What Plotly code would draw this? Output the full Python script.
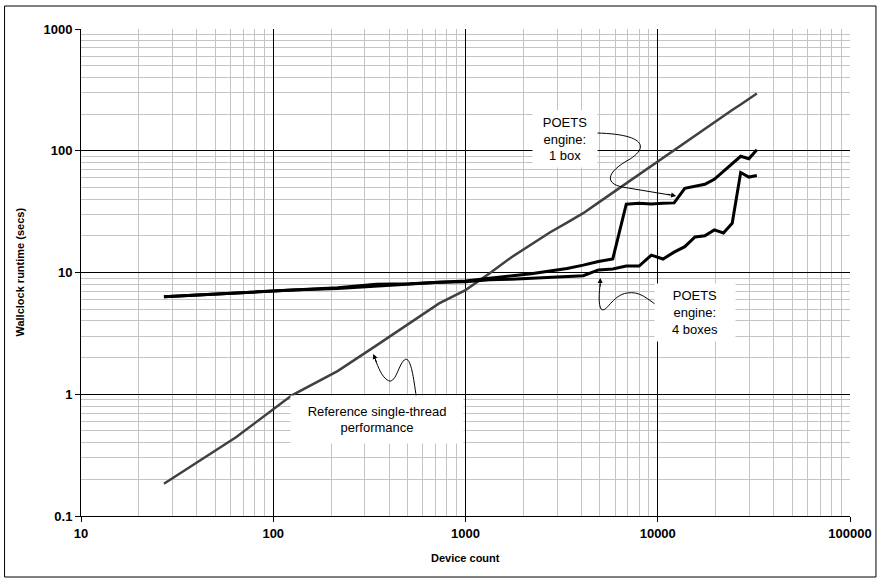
import plotly.graph_objects as go

# ---------------- data ----------------
device_count = [27, 64, 125, 216, 343, 512, 729, 1000, 1331, 1728, 2197, 2744, 3375,
                4096, 4913, 5832, 6859, 8000, 9261, 10648, 12167, 13824, 15625,
                17576, 19683, 21952, 24389, 27000, 29791, 32768]

reference_secs = [0.184, 0.443, 0.98, 1.55, 2.51, 3.81, 5.58, 7.17, 9.8, 13.3, 17.0,
                  21.3, 25.7, 30.7, 37.5, 45.3, 54.2, 64.2, 75.4, 88.1, 102, 117,
                  134, 153, 172, 193, 216, 240, 267, 295]

one_box_secs = [6.32, 6.79, 7.17, 7.5, 8.0, 8.1, 8.33, 8.5, 8.98, 9.34, 9.76, 10.3,
                10.8, 11.5, 12.3, 12.9, 36.4, 37.1, 36.6, 37.0, 37.3, 49.1, 51.0,
                53.0, 58.3, 67.8, 78.9, 90.1, 86.0, 102]

four_box_secs = [6.32, 6.79, 7.17, 7.4, 7.75, 8.05, 8.3, 8.4, 8.7, 8.8, 8.95, 9.1,
                 9.3, 9.4, 10.5, 10.7, 11.3, 11.3, 13.9, 12.9, 14.7, 16.3, 19.6,
                 20.0, 22.4, 21.1, 25.4, 66.3, 60.8, 62.6]

x_ticks = [10, 100, 1000, 10000, 100000]
x_ticktext = ["10", "100", "1000", "10000", "100000"]
y_ticks = [0.1, 1, 10, 100, 1000]
y_ticktext = ["0.1", "1", "10", "100", "1000"]

x_title = "Device count"
y_title = "Wallclock runtime (secs)"

# ---------------- layout geometry ----------------
W, H = 880, 583
L, R, T, B = 80.5, 30, 29, 67
PW = W - L - R
PH = H - T - B


def px(xp, yp):
    """pixel position -> paper coords"""
    return (xp - L) / PW, (H - B - yp) / PH


def path(points_cmds):
    out = []
    for cmd, pts in points_cmds:
        coords = []
        for (a, b) in pts:
            u, v = px(a, b)
            coords.append(f"{u:.5f},{v:.5f}")
        out.append(cmd + " " + " ".join(coords))
    return " ".join(out)


minor_x = [k * 10 ** e for e in range(1, 5) for k in range(2, 10)]
minor_y = [k * 10 ** e for e in range(-1, 3) for k in range(2, 10)]

fig = go.Figure()

fig.add_trace(go.Scatter(x=device_count, y=reference_secs, mode="lines",
                         line=dict(color="#404040", width=2.5), name="Reference"))
fig.add_trace(go.Scatter(x=device_count, y=one_box_secs, mode="lines",
                         line=dict(color="#000000", width=3), name="1 box"))
fig.add_trace(go.Scatter(x=device_count, y=four_box_secs, mode="lines",
                         line=dict(color="#000000", width=3), name="4 boxes"))

font_family = "Liberation Sans, Arial, sans-serif"

fig.update_xaxes(type="log", range=[1, 5], tickvals=x_ticks, ticktext=x_ticktext,
                 showgrid=True, gridcolor="#000000", gridwidth=1,
                 showline=True, linecolor="#000000", linewidth=1,
                 ticks="outside", ticklen=5, tickcolor="#000000",
                 tickfont=dict(family=font_family, size=13, color="#000000", weight="bold"),
                 minor=dict(tickvals=minor_x, showgrid=True, gridcolor="#c4c4c4",
                            gridwidth=1, ticks=""),
                 zeroline=False, mirror=False)

fig.update_yaxes(type="log", range=[-1, 3], tickvals=y_ticks, ticktext=y_ticktext,
                 showgrid=True, gridcolor="#000000", gridwidth=1,
                 showline=True, linecolor="#000000", linewidth=1,
                 ticks="outside", ticklen=5, tickcolor="#000000",
                 tickfont=dict(family=font_family, size=13, color="#000000", weight="bold"),
                 minor=dict(tickvals=minor_y, showgrid=True, gridcolor="#c4c4c4",
                            gridwidth=1, ticks=""),
                 zeroline=False)

shapes = []
# outer frame
x0, y0 = px(4, 577)
x1, y1 = px(876, 6)
shapes.append(dict(type="rect", xref="paper", yref="paper", x0=x0, y0=y0, x1=x1, y1=y1,
                   line=dict(color="#000000", width=1), layer="above"))

# curvy leader lines
curve_style = dict(type="path", xref="paper", yref="paper",
                   line=dict(color="#000000", width=1), layer="above")
p1 = path([("M", [(596, 133)]),
           ("C", [(642, 134), (650, 146), (630, 159)]),
           ("C", [(606, 172), (602, 185), (628, 188)]),
           ("L", [(670, 195)])])
p2 = path([("M", [(663, 310)]),
           ("C", [(646, 298), (640, 291), (627, 293)]),
           ("C", [(612, 295), (606, 314), (601, 309)]),
           ("C", [(598, 305), (599, 292), (600, 284)])])
p3 = path([("M", [(416, 397)]),
           ("C", [(413, 375), (410, 355), (404, 360)]),
           ("C", [(398, 365), (395, 386), (387, 380)]),
           ("C", [(381, 376), (378, 367), (375, 360)])])
for p in (p1, p2, p3):
    shapes.append(dict(path=p, **curve_style))

annotations = []
# arrowheads
for (tx, ty, ax, ay) in [(676, 196, -10, -2), (600, 278, 0, 10), (373, 354, 4, 10)]:
    u, v = px(tx, ty)
    annotations.append(dict(x=u, y=v, xref="paper", yref="paper", text="",
                            showarrow=True, arrowhead=2, arrowsize=1, arrowwidth=1,
                            arrowcolor="#000000", ax=ax, ay=ay))

label_font = dict(family=font_family, size=13, color="#000000")
for (text, cx, cy, w, h) in [("POETS<br>engine:<br>1 box", 565, 139, 62, 54),
                             ("POETS<br>engine:<br>4 boxes", 695, 312, 78, 55),
                             ("Reference single-thread<br>performance", 377, 419, 170, 45)]:
    u, v = px(cx, cy)
    annotations.append(dict(x=u, y=v, xref="paper", yref="paper", text=text,
                            showarrow=False, xanchor="center", yanchor="middle",
                            align="center", bgcolor="#ffffff", width=w, height=h,
                            font=label_font))

# axis titles
title_font = dict(family=font_family, size=11, color="#000000")
u, v = px(465, 558)
annotations.append(dict(x=u, y=v, xref="paper", yref="paper", text=f"<b>{x_title}</b>",
                        showarrow=False, xanchor="center", yanchor="middle",
                        font=title_font))
u, v = px(19, 272)
annotations.append(dict(x=u, y=v, xref="paper", yref="paper", text=f"<b>{y_title}</b>",
                        showarrow=False, xanchor="center", yanchor="middle",
                        textangle=-90, font=title_font))

fig.update_layout(width=W, height=H,
                  margin=dict(l=L, r=R, t=T, b=B, autoexpand=False),
                  paper_bgcolor="#ffffff", plot_bgcolor="#ffffff",
                  showlegend=False, shapes=shapes, annotations=annotations,
                  font=dict(family=font_family))

fig.write_html("out.html", config={"displayModeBar": False},
               post_script="document.body.style.margin='0px';document.body.style.padding='0px';")
